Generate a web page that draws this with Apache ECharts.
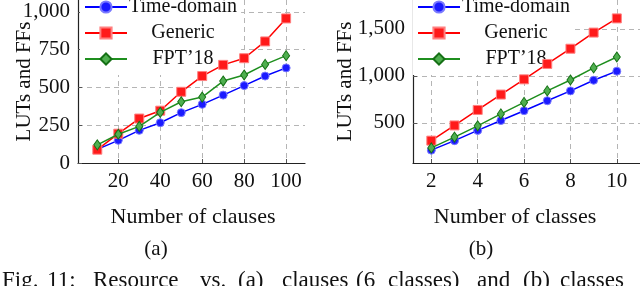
<!DOCTYPE html>
<html><head><meta charset="utf-8">
<script src="https://cdn.jsdelivr.net/npm/echarts@6/dist/echarts.min.js"></script>
<style>html,body{margin:0;padding:0;background:#fff}#c{width:640px;height:286px}</style>
</head><body><div id="c"></div>
<script>
// ---- data ----
const clauses = [10, 20, 30, 40, 50, 60, 70, 80, 90, 100];
const clauseTime = [90, 150, 216, 266, 333, 388, 449, 512, 575, 629];
const clauseGeneric = [88, 194, 294, 346, 471, 575, 649, 693, 804, 956];
const clauseFPT = [120, 190, 242, 335, 405, 436, 542, 582, 652, 710];

const classes = [2, 3, 4, 5, 6, 7, 8, 9, 10];
const classTime = [209, 310, 419, 524, 629, 735, 840, 953, 1050];
const classGeneric = [310, 472, 637, 801, 963, 1127, 1289, 1461, 1612];
const classFPT = [233, 348, 468, 595, 717, 840, 956, 1085, 1201];

const seriesNames = ['Time-domain', 'Generic', 'FPT\u201918'];
const clauseTicks = [20, 40, 60, 80, 100];
const clauseYTicks = [0, 250, 500, 750, 1000];
const classTicks = [2, 4, 6, 8, 10];
const classYTicks = [500, 1000, 1500];
const xTitles = ['Number of clauses', 'Number of classes'];
const yTitle = 'LUTs and FFs';
const subCaptions = ['(a)', '(b)'];
const captionWords = ['Fig.', '11:', 'Resource', 'vs.', '(a)', 'clauses', '(6', 'classes)', 'and', '(b)', 'classes'];

// ---- styles ----
const FONT = '"Liberation Serif", "Times New Roman", serif';
const styles = [
  {color: '#0000ff', symbol: 'circle', size: 8, fill: '#1a1aff', border: '#7a7aff'},
  {color: '#ff0000', symbol: 'rect', size: 9, fill: '#ff1a1a', border: '#ff8080'},
  {color: '#1f8f1f', symbol: 'diamond', size: [7, 10], fill: '#4faf4f', border: '#157015'}
];
const fmt = v => v >= 1000 ? Math.floor(v / 1000) + ',' + String(v % 1000).padStart(3, '0') : String(v);

function xAxisCfg(grid, min, max, ticks) {
  return {
    type: 'value', gridIndex: grid, min: min, max: max,
    axisLine: {show: true, onZero: false, lineStyle: {color: '#222', width: 1.2}},
    axisTick: {show: true, inside: true, length: 4, customValues: ticks, lineStyle: {color: '#555', width: 1}},
    axisLabel: {customValues: ticks, margin: 8, color: '#111', fontSize: 21, fontFamily: FONT},
    splitLine: {show: true, lineStyle: {color: '#b5b5b5', type: [5, 4], width: 1}}
  };
}
function yAxisCfg(grid, min, max, ticks, gap) {
  return {
    type: 'value', gridIndex: grid, min: min, max: max,
    name: yTitle, nameLocation: 'middle', nameGap: gap, nameRotate: 90, nameMoveOverlap: false,
    nameTextStyle: {fontSize: 21, fontFamily: FONT, color: '#111'},
    axisLine: {show: true, lineStyle: {color: '#222', width: 1.2}},
    axisTick: {show: true, inside: true, length: 4, customValues: ticks, lineStyle: {color: '#555', width: 1}},
    axisLabel: {customValues: ticks, margin: 8, color: '#111', fontSize: 21, fontFamily: FONT, formatter: fmt},
    splitLine: {show: true, lineStyle: {color: '#b5b5b5', type: [5, 4], width: 1}}
  };
}
function mkSeries(idx, xs, ys, gi) {
  const s = styles[idx];
  return {
    name: seriesNames[idx], type: 'line', xAxisIndex: gi, yAxisIndex: gi,
    data: xs.map((x, i) => [x, ys[i]]),
    symbol: s.symbol, symbolSize: s.size, showAllSymbol: true,
    lineStyle: {color: s.color, width: 1.5},
    itemStyle: {color: s.fill, borderColor: s.border, borderWidth: 1},
    animation: false, z: 3 + idx
  };
}
function legendCfg(left) {
  return {
    orient: 'vertical', left: left, top: -3, itemGap: 6, itemWidth: 42, itemHeight: 14,
    backgroundColor: '#fff', padding: [0, 4, 6, 4], selectedMode: false,
    data: seriesNames,
    formatter: n => '{c|' + n + '}',
    textStyle: {rich: {c: {width: 102, align: 'center', fontSize: 20, fontFamily: FONT, color: '#111', lineHeight: 20}}}
  };
}

const graphics = [];
graphics.push({type: 'text', x: 193, y: 217, style: {text: xTitles[0], font: '22px ' + FONT, fill: '#111', align: 'center', verticalAlign: 'middle'}});
graphics.push({type: 'text', x: 515, y: 217, style: {text: xTitles[1], font: '22px ' + FONT, fill: '#111', align: 'center', verticalAlign: 'middle'}});
graphics.push({type: 'text', x: 156, y: 249, style: {text: subCaptions[0], font: '21px ' + FONT, fill: '#111', align: 'center', verticalAlign: 'middle'}});
graphics.push({type: 'text', x: 481, y: 249, style: {text: subCaptions[1], font: '21px ' + FONT, fill: '#111', align: 'center', verticalAlign: 'middle'}});
const wordX = [2, 47, 93, 200, 238, 282, 356, 388, 477, 523, 560];
captionWords.forEach((w, i) => {
  graphics.push({type: 'text', x: wordX[i], y: 281, style: {text: w, font: '23px ' + FONT, fill: '#111', align: 'left', verticalAlign: 'middle'}});
});

const chart = echarts.init(document.getElementById('c'), null, {renderer: 'canvas'});
chart.setOption({
  animation: false,
  backgroundColor: '#fff',
  grid: [
    {left: 78, top: -2, width: 227, height: 165},
    {left: 413, top: -2, width: 231, height: 165}
  ],
  xAxis: [xAxisCfg(0, 0.8, 109, clauseTicks), xAxisCfg(1, 1.21, 11, classTicks)],
  yAxis: [yAxisCfg(0, 0, 1078, clauseYTicks, 43), yAxisCfg(1, 72, 1808, classYTicks, 57)],
  legend: [legendCfg(80), legendCfg(413)],
  series: [
    mkSeries(0, clauses, clauseTime, 0), mkSeries(1, clauses, clauseGeneric, 0), mkSeries(2, clauses, clauseFPT, 0),
    mkSeries(0, classes, classTime, 1), mkSeries(1, classes, classGeneric, 1), mkSeries(2, classes, classFPT, 1)
  ],
  graphic: graphics
});
</script></body></html>
